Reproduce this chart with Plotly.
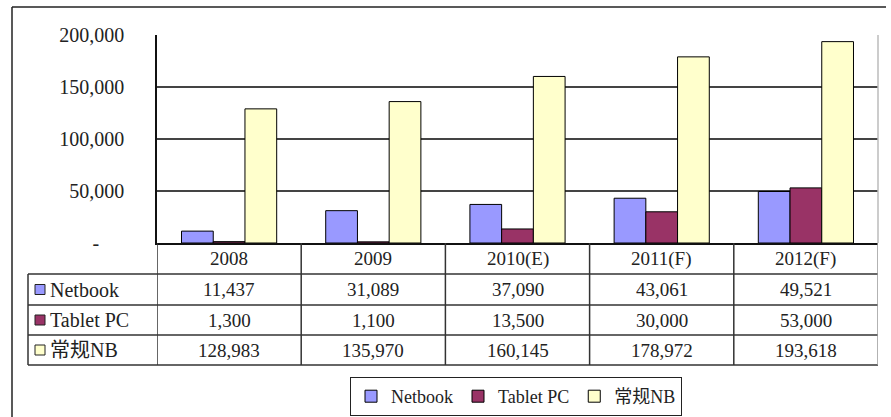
import plotly.graph_objects as go

categories = ["2008", "2009", "2010(E)", "2011(F)", "2012(F)"]
series_names = ["Netbook", "Tablet PC", "常规NB"]
netbook = [11437, 31089, 37090, 43061, 49521]
tablet_pc = [1300, 1100, 13500, 30000, 53000]
regular_nb = [128983, 135970, 160145, 178972, 193618]
series_values = [netbook, tablet_pc, regular_nb]
colors = ["#9999FF", "#993366", "#FFFFCC"]
y_tickvals = [0, 50000, 100000, 150000, 200000]
y_ticktext = ["-\u00a0\u00a0\u00a0\u00a0\u00a0", "50,000", "100,000", "150,000", "200,000"]

W, H = 891, 417
L, R, T, B = 157, 13, 35, 174
PW, PH = W - L - R, H - T - B
FONT = "Liberation Serif, 'Noto Sans CJK SC', serif"


def px(xp):
    return (xp - L) / PW


def py(yp):
    return (H - B - yp) / PH


fig = go.Figure()
for name, vals, col in zip(series_names, series_values, colors):
    fig.add_trace(go.Bar(x=categories, y=vals, name=name,
                         marker=dict(color=col, line=dict(color="black", width=1))))

shapes = []
annotations = []
LINE = dict(color="#333333", width=1.5)

# outer border (left and top)
shapes.append(dict(type="line", xref="paper", yref="paper", x0=px(12), x1=px(12), y0=py(7), y1=py(420), line=dict(color="#222", width=1.5)))
shapes.append(dict(type="line", xref="paper", yref="paper", x0=px(12), x1=px(886), y0=py(7), y1=py(7), line=dict(color="#222", width=1.5)))
# plot area right border
shapes.append(dict(type="line", xref="paper", yref="paper", x0=1, x1=1, y0=0, y1=1, line=dict(color="#bbbbbb", width=1.5)))

# table rows
row_edges = [274, 305, 335, 365]
for ye in row_edges:
    shapes.append(dict(type="line", xref="paper", yref="paper", x0=px(28), x1=1, y0=py(ye), y1=py(ye), line=LINE))
# left border of label column
shapes.append(dict(type="line", xref="paper", yref="paper", x0=px(28), x1=px(28), y0=py(274), y1=py(365), line=LINE))
# column separators
n = len(categories)
for i in range(n + 1):
    c = "#999999" if i == n else "#333333"
    shapes.append(dict(type="line", xref="x", yref="paper", x0=i - 0.5, x1=i - 0.5, y0=py(243), y1=py(365), line=dict(color=c, width=1.5)))

# header row
for i, c in enumerate(categories):
    annotations.append(dict(x=i, y=py(258.5), xref="x", yref="paper", text=c, showarrow=False,
                            xanchor="center", yanchor="middle",
                            font=dict(family=FONT, size=19, color="#222")))
row_centers = [289.5, 320, 350]
for name, vals, col, yc in zip(series_names, series_values, colors, row_centers):
    shapes.append(dict(type="rect", xref="paper", yref="paper", x0=px(35), x1=px(45), y0=py(yc + 5), y1=py(yc - 5),
                       fillcolor=col, line=dict(color="#222", width=1)))
    annotations.append(dict(x=px(48), y=py(yc), xref="paper", yref="paper", text=name, showarrow=False,
                            xanchor="left", yanchor="middle", font=dict(family=FONT, size=20, color="#222")))
    for i, v in enumerate(vals):
        annotations.append(dict(x=i, y=py(yc), xref="x", yref="paper", text=f"{v:,}", showarrow=False,
                                xanchor="center", yanchor="middle",
                                font=dict(family=FONT, size=19, color="#222")))

fig.update_layout(
    width=W, height=H,
    margin=dict(l=L, r=R, t=T, b=B, autoexpand=False),
    paper_bgcolor="white", plot_bgcolor="white",
    barmode="group", bargap=0.34, bargroupgap=0,
    shapes=shapes, annotations=annotations,
    font=dict(family=FONT, color="#222"),
    legend=dict(orientation="h", x=px(516), xanchor="center", y=py(377), yanchor="top",
                bordercolor="#222", borderwidth=1, bgcolor="white",
                font=dict(family=FONT, size=18, color="#222"), tracegroupgap=0),
    xaxis=dict(type="category", range=[-0.5, n - 0.5], showticklabels=False, showline=True, linecolor="#111",
               linewidth=1.5, ticks="", showgrid=False, zeroline=False),
    yaxis=dict(range=[0, 200000], tickvals=y_tickvals, ticktext=y_ticktext, showline=True, linecolor="#111",
               linewidth=1.5, showgrid=True, gridcolor="#444", gridwidth=1.5, zeroline=False, ticks="",
               ticklabelstandoff=27, tickfont=dict(family=FONT, size=20, color="#222")),
)

fig.write_html("out.html", config={"displayModeBar": False})
with open("out.html", "r", encoding="utf-8") as f:
    html = f.read()
html = html.replace("<body>", '<body style="margin:0;padding:0;overflow:hidden">', 1)
with open("out.html", "w", encoding="utf-8") as f:
    f.write(html)
